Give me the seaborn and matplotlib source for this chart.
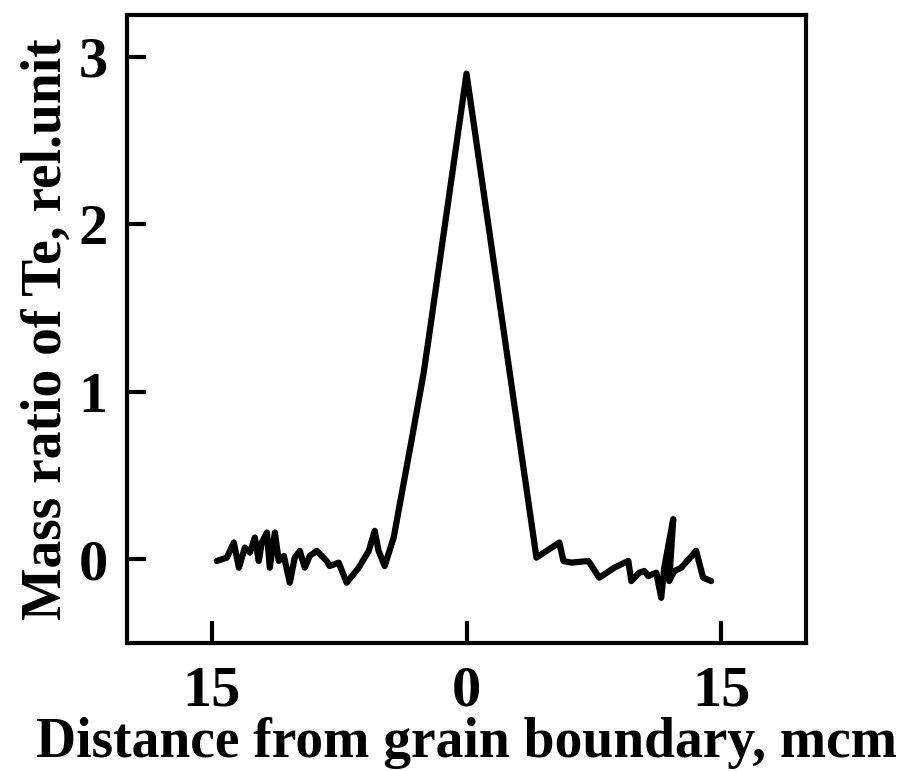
import matplotlib
matplotlib.use("Agg")
import matplotlib.pyplot as plt
import seaborn as sns
import pandas as pd

distance = [-14.71, -14.12, -13.71, -13.41, -13.06, -12.76, -12.47, -12.24, -12.06, -11.76,
            -11.59, -11.29, -11.06, -10.76, -10.41, -10.12, -9.82, -9.53, -9.24, -8.82,
            -8.53, -8.24, -8.06, -7.53, -7.06, -6.35, -5.76, -5.41, -5.18, -4.82,
            -4.29, -3.24, -2.53, -2.24, 0.0,
            4.12, 5.47, 5.71, 6.18, 7.18, 7.82, 8.71, 9.53, 9.71, 10.18,
            10.47, 10.71, 11.18, 11.47, 11.65, 12.18, 11.94, 12.24, 12.65, 13.53,
            13.94, 14.41]
te_ratio = [-0.01, 0.01, 0.10, -0.05, 0.07, 0.04, 0.13, -0.01, 0.10, 0.16,
            -0.05, 0.16, -0.01, 0.02, -0.14, 0.01, 0.05, -0.05, 0.02, 0.05,
            0.02, -0.01, -0.04, -0.02, -0.14, -0.05, 0.05, 0.17, 0.05, -0.04,
            0.13, 0.71, 1.11, 1.31, 2.90,
            0.01, 0.10, -0.01, -0.02, -0.01, -0.11, -0.05, -0.01, -0.13, -0.08,
            -0.07, -0.10, -0.08, -0.23, -0.05, 0.24, -0.13, -0.07, -0.05, 0.05,
            -0.11, -0.13]
x_ticks = [-15, 0, 15]
x_ticklabels = ["15", "0", "15"]
y_ticks = [0, 1, 2, 3]

df = pd.DataFrame({"distance": distance, "te": te_ratio})

sns.set_style("ticks")
plt.rcParams["font.family"] = ["Liberation Serif", "DejaVu Serif"]
plt.rcParams["font.weight"] = "bold"
plt.rcParams["text.color"] = "black"
plt.rcParams["axes.labelcolor"] = "black"
plt.rcParams["xtick.color"] = "black"
plt.rcParams["ytick.color"] = "black"

fig = plt.figure(figsize=(9.10, 7.71), dpi=100)
ax = fig.add_axes([0.1396, 0.166, 0.7461, 0.8145])

sns.lineplot(data=df, x="distance", y="te", sort=False, estimator=None,
             color="black", linewidth=4.5, ax=ax)

ax.set_xlim(-20, 20)
ax.set_ylim(-0.5, 3.25)
ax.set_xticks(x_ticks)
ax.set_xticklabels(x_ticklabels)
ax.set_yticks(y_ticks)

for s in ax.spines.values():
    s.set_linewidth(3)
    s.set_color("black")

ax.tick_params(axis="x", direction="in", length=16, width=3, pad=16,
               labelsize=42, top=False, colors="black")
ax.tick_params(axis="y", direction="in", length=14, width=3, pad=14,
               labelsize=42, right=False, colors="black")
for lab in ax.get_xticklabels() + ax.get_yticklabels():
    lab.set_fontweight("bold")

ax.set_xlabel("Distance from grain boundary, mcm", fontsize=40,
              fontweight="bold", labelpad=0, color="black")
ax.set_ylabel("Mass ratio of Te, rel.unit", fontsize=40,
              fontweight="bold", labelpad=4, color="black")

fig.savefig("out.png", dpi=100)
